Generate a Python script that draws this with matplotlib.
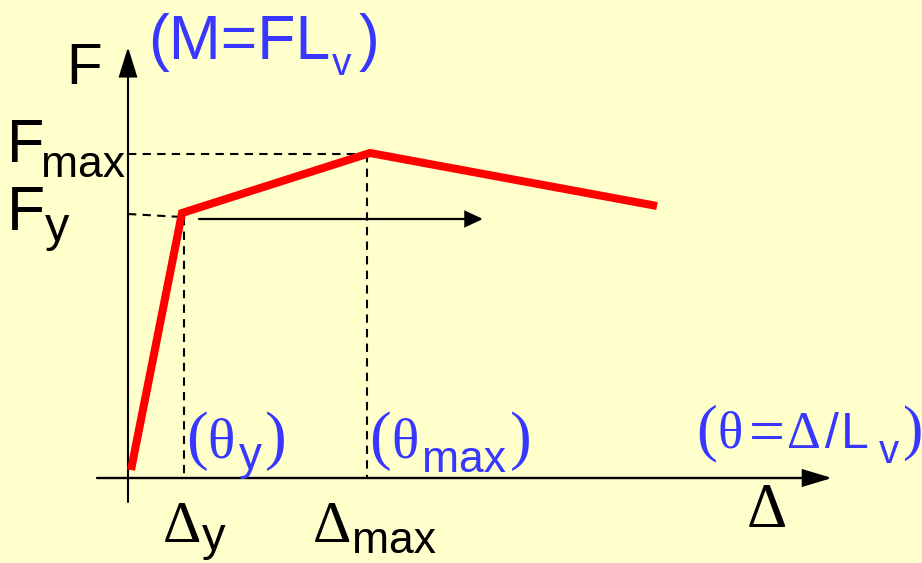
import matplotlib
matplotlib.use("Agg")
from matplotlib import pyplot as plt
from matplotlib.patches import FancyArrowPatch
from matplotlib.textpath import TextPath
from matplotlib.font_manager import FontProperties

# Idealised force-displacement envelope (schematic units)
curve_delta = [0.03, 0.54, 2.42, 5.29]
curve_force = [0.08, 2.65, 3.25, 2.72]

# yield / peak points taken from the envelope
delta_y, force_y = curve_delta[1], curve_force[1]
delta_max, force_max = curve_delta[2], curve_force[2]

# horizontal arrow starting at the yield level
plateau_arrow_x = [0.71, 3.55]
plateau_arrow_y = 2.59

W, H = 922, 563
BG = "#FFFFCC"
BLUE = "#3737FF"
SANS = "Liberation Sans"
SERIF = "Liberation Serif"


def main():
    fig = plt.figure(figsize=(W / 100, H / 100), dpi=100, facecolor=BG)
    ax = fig.add_axes([0, 0, 1, 1])
    ax.set_xlim(-1.28, 7.94)
    ax.set_ylim(-0.85, 4.78)
    ax.axis("off")

    def label(x, y, s, size, family=SANS, color="black"):
        # x = left edge of the ink, y = baseline, both in pixels from top-left
        prop = FontProperties(family=family, size=size)
        lsb = TextPath((0, 0), s, size=size, prop=prop).get_extents().x0 * 100 / 72
        fig.text((x + 2 - lsb) / W, 1 - y / H, s, fontproperties=prop,
                 color=color, ha="left", va="baseline")

    def arrow(p0, p1, hl, hw, lw):
        ax.add_patch(FancyArrowPatch(p0, p1, arrowstyle=f"-|>,head_length={hl},head_width={hw}",
                                     mutation_scale=1, lw=lw, color="black",
                                     shrinkA=0, shrinkB=0, joinstyle="miter"))

    # axes
    arrow((0, -0.24), (0, 4.31), 18.7, 5.8, 1.5)
    arrow((-0.31, 0), (7.04, 0), 18, 5.4, 1.7)

    # dashed guide lines
    dash = dict(color="black", lw=1.5, dashes=(4, 3))
    ax.plot([0, delta_y], [force_y - 0.01, force_y - 0.04], **dash)
    ax.plot([delta_y + 0.02, delta_y + 0.02], [force_y - 0.04, 0], **dash)
    ax.plot([0, delta_max], [force_max - 0.01, force_max - 0.01], **dash)
    ax.plot([delta_max - 0.03, delta_max - 0.03], [force_max - 0.01, 0], **dash)

    # plateau arrow
    arrow((plateau_arrow_x[0], plateau_arrow_y), (plateau_arrow_x[1], plateau_arrow_y), 10.8, 5, 1.6)

    # envelope
    ax.plot(curve_delta, curve_force, color="#FF0000", lw=5.8,
            solid_joinstyle="miter", solid_capstyle="butt")

    # axis labels
    label(69, 84, "F", 42)
    label(10, 162, "F", 44)
    label(42, 177, "max", 32)
    label(10, 230, "F", 45)
    label(43, 241, "y", 35)
    label(163, 542, "\u0394", 43, SERIF)
    label(200, 550, "y", 34)
    label(313, 542, "\u0394", 43, SERIF)
    label(353, 553, "max", 32)
    label(747, 527, "\u0394", 45, SERIF)

    # (M=FLv)
    label(150, 59, "(M=FL", 45, color=BLUE)
    label(330, 75, "v", 28, color=BLUE)
    label(357, 59, ")", 45, color=BLUE)

    # (theta_y)
    label(187, 457, "(", 47, SERIF, BLUE)
    label(208, 457, "\u03b8", 41, SERIF, BLUE)
    label(237, 469, "y", 33, color=BLUE)
    label(265, 457, ")", 47, SERIF, BLUE)

    # (theta_max)
    label(370, 457, "(", 47, SERIF, BLUE)
    label(392, 457, "\u03b8", 41, SERIF, BLUE)
    label(423, 472, "max", 32, color=BLUE)
    label(510, 457, ")", 47, SERIF, BLUE)

    # (theta=Delta/Lv)
    label(697, 448, "(", 45, SERIF, BLUE)
    label(718, 448, "\u03b8", 38, SERIF, BLUE)
    label(750, 452, "=", 46, SERIF, BLUE)
    label(787, 448, "\u0394", 38, SERIF, BLUE)
    label(823, 448, "/", 36, color=BLUE)
    label(843, 448, "L", 36, color=BLUE)
    label(877, 463, "v", 29, color=BLUE)
    label(902, 448, ")", 44, SERIF, BLUE)

    fig.savefig("out.png", dpi=100, facecolor=BG)


if __name__ == "__main__":
    main()
